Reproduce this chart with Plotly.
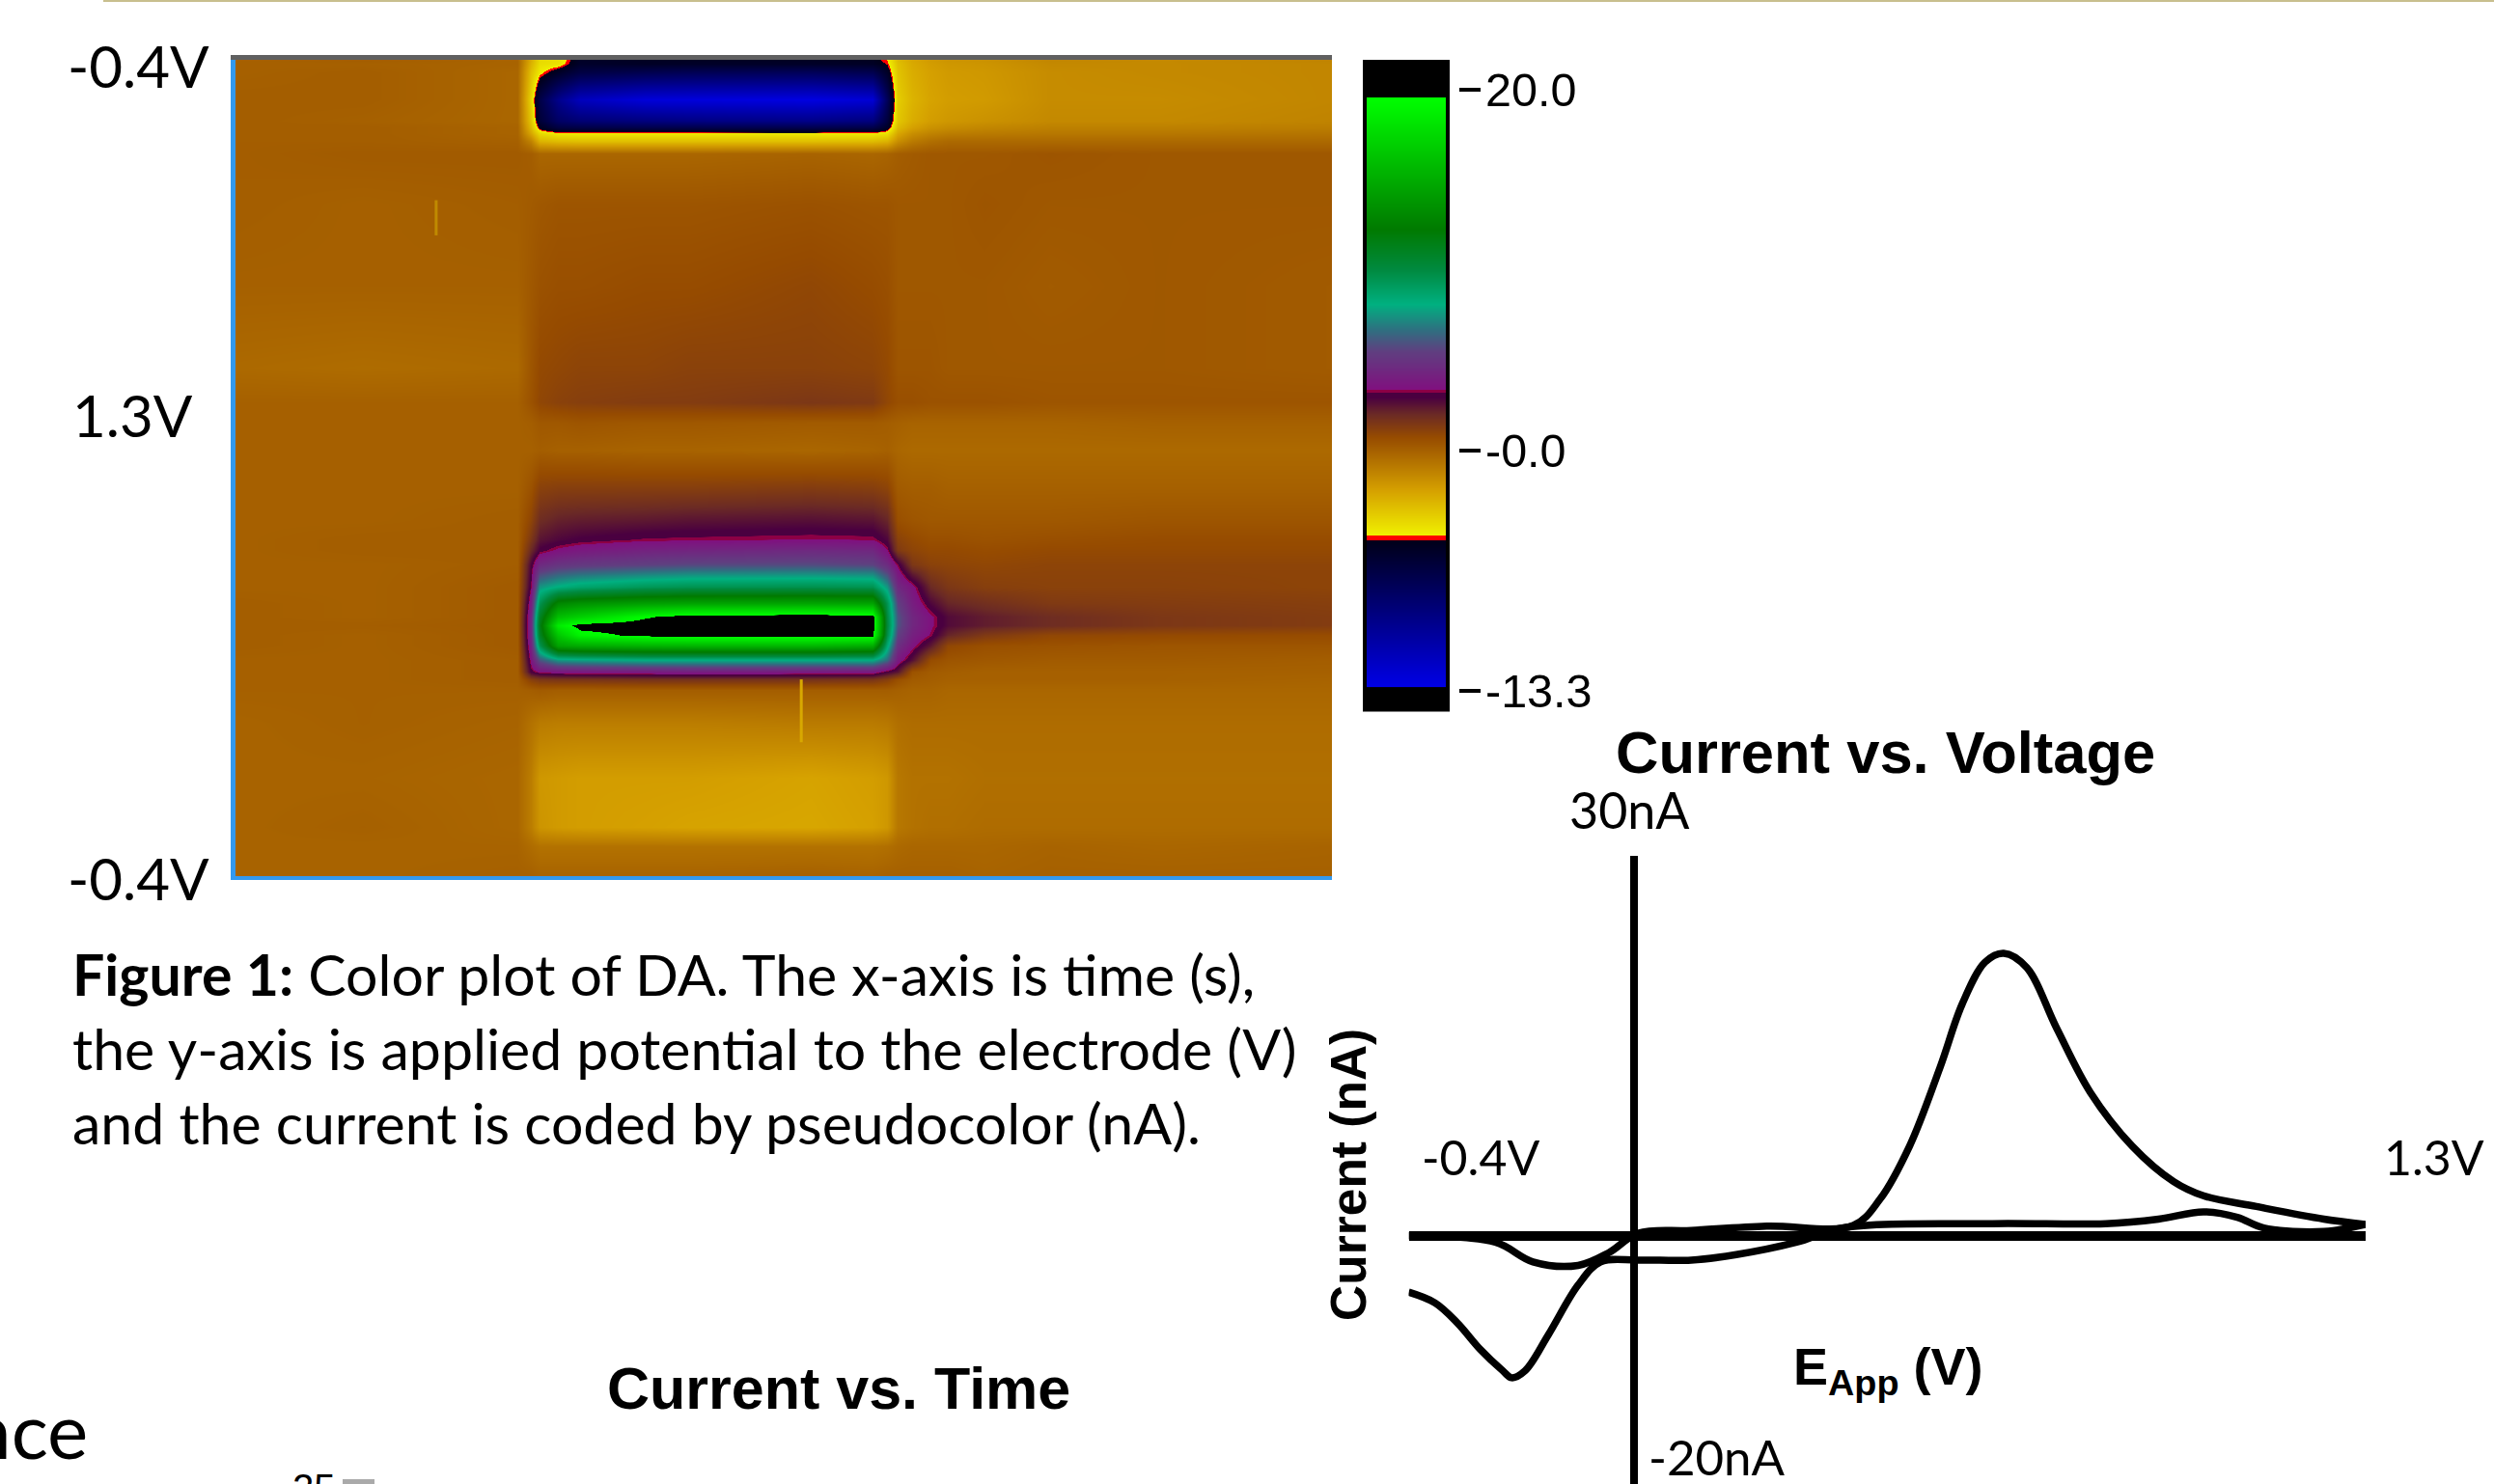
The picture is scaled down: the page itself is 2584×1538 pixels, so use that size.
import numpy as np
import plotly.graph_objects as go

W, H = 2584, 1538
BODY = "Lato"
BOLD = "Liberation Sans"

# ---- colour plot: time (% of sweep), scan sample (% of scan), current (nA)
time_pct = [0, 11.6, 25.7, 26.9, 27.7, 29.4, 31.4, 37.3, 41.3, 52.5, 58.1, 59.4, 60.4, 61.7, 63.4, 65, 68.3, 74.3, 84.2, 100]
scan_pct = [0, 0.5, 1.5, 4.8, 7.5, 8.3, 9, 9.9, 11.5, 17.6, 27.6, 37.7, 42, 44.4, 47.7, 52.4, 56.4, 58.8, 60.1, 61.8,
            64.5, 66.5, 68.2, 69.3, 70.5, 71.8, 73.5, 74.9, 75.9, 77.2, 81.2, 87.9, 94, 96.3, 100]
current_nA = [
 [0,.1,-.1,-2.6,-4.0,-4.2,-5.6,-5.4,-5.4,-5.4,-5.3,-4.7,-3.0,-2.4,-2.0,-1.8,-1.7,-1.3,-1.4,-1.2],
 [0,0,-.1,-2.8,-4.1,-4.3,-5.7,-5.5,-5.6,-5.6,-5.5,-4.9,-3.2,-2.5,-2.1,-1.9,-1.8,-1.4,-1.4,-1.3],
 [0,.1,-.2,-3.2,-4.5,-5.6,-6.7,-7.2,-7.4,-7.6,-7.2,-5.6,-3.3,-2.6,-2.2,-2,-1.9,-1.5,-1.4,-1.3],
 [.1,.1,-.2,-3.8,-6.8,-9.5,-11.5,-12.6,-12.7,-12.9,-12.4,-7.5,-3.6,-2.8,-2.3,-2.1,-2,-1.5,-1.5,-1.3],
 [.1,0,-.2,-3.4,-6.2,-8,-8.6,-9,-9.2,-9.4,-9,-6.4,-3.4,-2.6,-2.1,-1.9,-1.7,-1.4,-1.4,-1.2],
 [.1,.1,-.1,-3,-5.3,-6.6,-6.8,-7,-7,-7.1,-6.9,-5.6,-3,-2.2,-1.7,-1.5,-1.3,-1.1,-1.1,-1],
 [.1,.1,-.1,-2.4,-4,-4.5,-4.55,-4.55,-4.55,-4.55,-4.5,-4.2,-2.4,-1.6,-1.2,-1,-.9,-.8,-.8,-.7],
 [.1,.1,0,-1.2,-2.8,-3.1,-3.2,-3.2,-3.2,-3.2,-3.1,-2.8,-1.6,-.9,-.5,-.3,-.3,-.3,-.3,-.3],
 [.1,.2,.2,.1,-.2,-.2,-.2,-.2,-.2,-.1,-.2,-.1,.1,.2,.3,.3,.3,.4,.3,.3],
 [.1,0,.1,.2,.3,.4,.4,.4,.4,.5,.4,.4,.3,.3,.3,.3,.4,.3,.3,.3],
 [0,0,0,.3,.5,.6,.6,.7,.7,.9,.7,.6,.3,.3,.3,.3,.3,.2,.3,.2],
 [-.3,-.4,-.3,.4,.8,.9,1,1,1.1,1.1,1.0,.8,.4,.4,.4,.3,.3,.3,.3,.2],
 [0,0,0,.5,.9,1.1,1.2,1.3,1.3,1.5,1.4,.9,.6,.6,.5,.5,.5,.4,.4,.4],
 [0,0,0,.1,.3,.3,.4,.3,.3,.2,.2,.1,0,-.1,-.1,-.1,-.1,-.1,0,0],
 [0,0,0,0,.1,0,0,-.1,-.1,-.2,-.1,0,-.2,-.3,-.3,-.3,-.3,-.3,-.3,-.3],
 [0,0,0,.5,1.1,1.2,1.2,1.2,1.2,1.3,1.2,1,.2,.1,.1,0,0,0,0,0],
 [0,0,.1,1,1.9,2.2,2.3,2.4,2.5,2.6,2.5,2.1,.6,.4,.3,.3,.3,.3,.4,.4],
 [0,.1,.1,1.5,2.5,2.8,3.0,3.25,3.3,3.4,3.35,2.8,1.1,.8,.6,.6,.5,.6,.7,.7],
 [0,.1,.1,2,3,3.5,3.8,4.2,4.3,4.5,4.4,3.4,1.4,1,.8,.8,.7,.8,.8,.8],
 [0,0,.1,2.9,4.5,5,5.2,5.5,5.7,5.8,5.6,4.6,3.2,1.5,1.1,1,.9,1,1,1],
 [0,0,.2,3.3,7.5,8.2,8.7,9.3,9.5,9.6,9.5,7.5,4.5,3.6,2,1.5,1.2,1.1,1.1,1],
 [.1,0,.2,4,9.5,13,13.6,14.3,14.5,14.6,14.5,9.5,5.5,4.0,2.8,2.1,1.8,1.4,1.3,1.2],
 [.1,0,.2,4.5,11,16,17,19.4,20.3,20.5,20.3,10,6,4.4,3.5,2.7,2.3,1.9,1.5,1.3],
 [.1,.1,.2,4.6,11.5,18.5,20.2,20.4,20.6,20.7,20.5,10.2,6,4.4,3.5,2.7,2.3,1.9,1.5,1.3],
 [.1,0,.2,4.5,11,16.5,19,20,20.2,20.3,20.1,9.8,5.5,4.1,3.3,2.1,1.4,.9,.8,.7],
 [.1,0,.2,4.2,9.5,14.5,15,15.4,15.5,15.6,15,8.5,4.8,3.6,2.4,.9,.6,.5,.4,.4],
 [0,0,.1,3.6,6,7.5,7.7,8,8,8,8,6.5,3.8,2.6,.7,.4,.3,.2,.2,.1],
 [0,0,.1,3,3.5,3.7,3.8,3.9,4,3.9,3.8,3,2.5,.5,.2,.1,0,0,0,0],
 [0,0,.1,1.2,1.5,1.6,1.6,1.7,1.7,1.7,1.6,1.2,.6,.2,.1,0,0,0,0,-.1],
 [0,0,0,.1,.2,.1,.1,.1,.1,.1,.1,.1,0,-.1,-.1,-.2,-.2,-.2,-.2,-.2],
 [-.1,0,-.1,-.6,-.9,-1,-1,-1,-1,-.9,-.9,-.8,-.5,-.4,-.4,-.4,-.4,-.4,-.4,-.4],
 [-.1,-.1,-.2,-1,-1.9,-2,-2.1,-2.1,-2.1,-2.3,-2.1,-1.9,-.8,-.6,-.6,-.6,-.5,-.5,-.5,-.5],
 [-.1,0,-.2,-1,-1.8,-2,-2.1,-2.2,-2.3,-2.4,-2.2,-1.9,-.8,-.6,-.5,-.5,-.4,-.4,-.4,-.4],
 [-.1,-.1,-.1,-.4,-.6,-.6,-.6,-.6,-.6,-.6,-.6,-.5,-.3,-.2,-.2,-.2,-.2,-.1,-.2,-.1],
 [-.1,-.1,0,0,-.1,-.1,-.1,-.1,-.1,0,-.1,0,0,0,0,0,-.1,0,0,0],
]
streak_a_t = [18.3, 18.3]
streak_a_s = [17.2, 21.5]
streak_b_t = [51.6, 51.6]
streak_b_s = [75.9, 83.6]

# ---- pseudocolor scale
scale_z = [-14.37, -13.14, -13.13, -4.97, -4.96, -4.72, -4.71, -2.2, 0.74, 2, 2.94, 3.19, 3.2, 3.36, 3.37,
           5.5, 6.7, 8.1, 10, 12.27, 19.6, 19.61, 21.54]
scale_colors = ["#000000", "#000000", "#0000E6", "#000018", "#FF0000", "#FF0000", "#F0F000", "#D5A000", "#964B00",
                "#6B2A25", "#4A0040", "#4A0040", "#8C0045", "#8C0045", "#80107F", "#5F3F80", "#2E7080", "#00B080",
                "#008A40", "#007A00", "#00FF00", "#000000", "#000000"]
scale_ticks = [20, 0, -13.3]
scale_labels = ["20.0", "-0.0", "-13.3"]

# ---- cyclic voltammogram
fwd_V = [-0.400, -0.246, -0.179, -0.099, -0.045, 0.008, 0.102, 0.236, 0.390, 0.437, 0.490, 0.544, 0.584, 0.624,
         0.657, 0.698, 0.751, 0.811, 0.885, 0.959, 1.012, 1.106, 1.226, 1.300]
fwd_nA = [0, -0.51, -2.06, -2.34, -1.35, 0.2, 0.42, 0.76, 0.82, 2.87, 7.10, 13.30, 18.37, 21.61,
          22.31, 21.18, 16.40, 11.32, 7.10, 4.28, 3.16, 2.31, 1.32, 0.90]
rev_V = [1.300, 1.226, 1.119, 1.072, 1.012, 0.932, 0.838, 0.637, 0.370, 0.289, 0.182, 0.102, 0.008, -0.059,
         -0.099, -0.152, -0.193, -0.217, -0.233, -0.273, -0.313, -0.353, -0.400]
rev_nA = [0.90, 0.34, 0.62, 1.46, 1.89, 1.32, 0.96, 0.96, 0.62, -0.51, -1.49, -1.92, -1.92, -2.06,
          -3.89, -7.83, -10.65, -11.21, -10.65, -8.96, -6.9, -5.3, -4.45]

zmin, zmax = scale_z[0], scale_z[-1]
cscale = [[(z - zmin) / (zmax - zmin), c] for z, c in zip(scale_z, scale_colors)]

def px(x): return x / W
def py(y): return 1 - y / H
def dx(a, b): return [px(a), px(b)]
def dy(top, bottom): return [py(bottom), py(top)]

fig = go.Figure()
fig.add_trace(go.Heatmap(x=time_pct, y=scan_pct, z=current_nA, colorscale=cscale, zmin=zmin, zmax=zmax,
                         zsmooth="best", showscale=False, hoverinfo="skip", xaxis="x", yaxis="y"))
fig.add_trace(go.Scatter(x=streak_a_t, y=streak_a_s, mode="lines", line=dict(color="#C08A00", width=3),
                         showlegend=False, xaxis="x", yaxis="y"))
fig.add_trace(go.Scatter(x=streak_b_t, y=streak_b_s, mode="lines", line=dict(color="#D8A800", width=3),
                         showlegend=False, xaxis="x", yaxis="y"))

levels = np.linspace(zmax, zmin, 672)
fig.add_trace(go.Heatmap(x=[0, 1], y=levels, z=[[v, v] for v in levels], colorscale=cscale, zmin=zmin, zmax=zmax,
                         showscale=False, hoverinfo="skip", xaxis="x2", yaxis="y2"))

for vx, vy in ((fwd_V, fwd_nA), (rev_V, rev_nA)):
    fig.add_trace(go.Scatter(x=vx, y=vy, mode="lines", line=dict(color="black", width=7.5, shape="spline", smoothing=1.0),
                             showlegend=False, xaxis="x3", yaxis="y3"))

hidden = dict(showgrid=False, zeroline=False, showticklabels=False, ticks="")
fig.update_layout(
    width=W, height=H, autosize=False, margin=dict(l=0, r=0, t=0, b=0),
    paper_bgcolor="white", plot_bgcolor="white", showlegend=False,
    xaxis=dict(domain=dx(244, 1380), range=[0, 100], showline=True, linecolor="#3399EE", linewidth=4, **hidden),
    yaxis=dict(domain=dy(62, 908), range=[100, 0], showline=True, linecolor="#3399EE", linewidth=5, **hidden),
    xaxis2=dict(domain=dx(1416, 1498), range=[0, 1], anchor="y2", **hidden),
    yaxis2=dict(domain=dy(64, 735.6), range=[zmin, zmax], anchor="free", position=px(1511), side="right",
                showgrid=False, zeroline=False, tickmode="array", tickvals=scale_ticks, ticktext=scale_labels,
                ticks="outside", ticklen=22, tickwidth=4, tickcolor="black", showline=False, showticklabels=False),
    xaxis3=dict(domain=dx(1459.5, 2451), range=[-0.4, 1.3], anchor="y3", showgrid=False, showticklabels=False,
                zeroline=True, zerolinecolor="black", zerolinewidth=8),
    yaxis3=dict(domain=dy(887, 1538), range=[-19.6, 30], anchor="x3", showgrid=False, showticklabels=False,
                zeroline=True, zerolinecolor="black", zerolinewidth=10),
)

def label(text, x, y, size, family=BODY, xanchor="left", yanchor="middle", angle=0):
    fig.add_annotation(text=text, x=px(x), y=py(y), xref="paper", yref="paper", showarrow=False, xanchor=xanchor,
                       yanchor=yanchor, textangle=angle, borderpad=0, align="left",
                       font=dict(family=family, size=size, color="black"))

label("-0.4V", 69, 68, 60)
label("1.3V", 74, 430, 60)
label("-0.4V", 69, 910, 60)
label("<b>Figure 1:</b> Color plot of DA. The x-axis is time (s),", 74, 1009, 59)
label("the y-axis is applied potential to the electrode (V)", 74, 1086, 59)
label("and the current is coded by pseudocolor (nA).", 74, 1163, 59)
label("nce", 92, 1481, 80, xanchor="right")
label("<b>Current vs. Time</b>", 628, 1439, 61, family=BOLD)
label("<b>Current vs. Voltage</b>", 1673, 779, 61.5, family=BOLD)
label("25", 302, 1519, 40, family=BOLD, yanchor="top")
label("30nA", 1625, 839, 52)
label("-0.4V", 1472, 1199, 50)
label("1.3V", 2469, 1199, 50)
label("-20nA", 1707, 1509, 51)
label("<b>Current (nA)</b>", 1397, 1218, 51.5, family=BOLD, xanchor="center", angle=-90)
label("<b>E<sub>App</sub> (V)</b>", 1857, 1420, 54, family=BOLD)

# colour-scale tick labels, placed at the scale's own z positions
scale_top, scale_bottom = 64, 735.6
for tick, text in zip(scale_ticks, scale_labels):
    tick_y = scale_top + (zmax - tick) / (zmax - zmin) * (scale_bottom - scale_top)
    label(text, 1538, tick_y, 48.5, family=BOLD)

fig.update_layout(shapes=[
    dict(type="rect", xref="paper", yref="paper", x0=px(239), x1=px(1380), y0=py(62), y1=py(57),
         fillcolor="#606060", line_width=0),
    dict(type="rect", xref="paper", yref="paper", x0=px(1414), x1=px(1500), y0=py(735.6), y1=py(64),
         fillcolor="rgba(0,0,0,0)", line=dict(color="black", width=4)),
    dict(type="rect", xref="paper", yref="paper", x0=px(107), x1=1, y0=py(2), y1=1,
         fillcolor="#C8BF8E", line_width=0),
    dict(type="rect", xref="paper", yref="paper", x0=px(355), x1=px(388), y0=py(1538), y1=py(1533),
         fillcolor="#AAAAAA", line_width=0),
])

fig.write_html("out.html", config={"displayModeBar": False},
               post_script=("var d=document.documentElement,b=document.body;"
                            "d.style.height=b.style.height='1538px';d.style.overflow=b.style.overflow='hidden';"
                            "b.style.margin='0';"))
